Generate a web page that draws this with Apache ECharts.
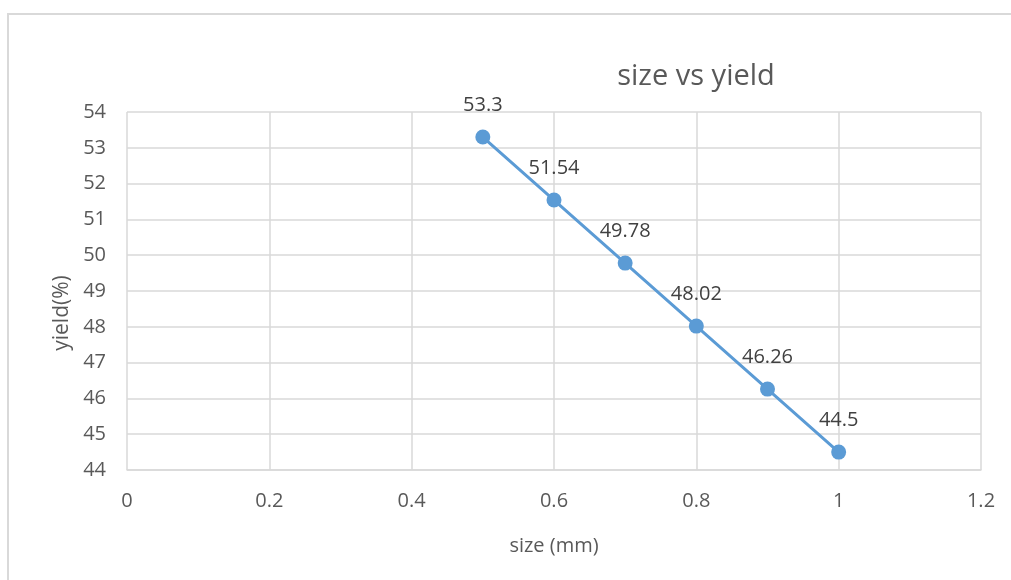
<!DOCTYPE html>
<html>
<head>
<meta charset="utf-8">
<script src="https://cdn.jsdelivr.net/npm/echarts@6/dist/echarts.min.js"></script>
<style>
  html, body { margin: 0; padding: 0; background: #fff; }
  #frame { position: absolute; left: 7px; top: 13px; width: 1010px; height: 575px;
           border-left: 2px solid #d9d9d9; border-top: 2px solid #d9d9d9; box-sizing: border-box; }
  #chart { width: 1011px; height: 580px; position: absolute; left: 0; top: 0; }
</style>
</head>
<body>
<div id="frame"></div>
<div id="chart"></div>
<script>
// Particle size (mm) against yield (%)
const sizes = [0.5, 0.6, 0.7, 0.8, 0.9, 1.0];
const yields = [53.3, 51.54, 49.78, 48.02, 46.26, 44.5];

const xTicks = { min: 0, max: 1.2, interval: 0.2 };
const yTicks = { min: 44, max: 54, interval: 1 };

const font = "'Open Sans', 'Noto Sans', sans-serif";
const textColor = '#595959';
const gridColor = '#d9d9d9';
const lineColor = '#5B9BD5';

const chart = echarts.init(document.getElementById('chart'), null, { renderer: 'canvas' });
chart.setOption({
  animation: false,
  title: {
    text: 'size vs yield',
    left: 691, top: 57, textAlign: 'center',
    textStyle: { fontFamily: font, fontSize: 29, fontWeight: 'normal', color: textColor }
  },
  graphic: [{
    type: 'text',
    x: 62, y: 313, rotation: Math.PI / 2,
    style: {
      text: 'yield(%)', fontFamily: font, fontSize: 21, fill: textColor,
      textAlign: 'center', textVerticalAlign: 'middle'
    }
  }],
  grid: { left: 127, right: 30, top: 112, bottom: 110 },
  xAxis: {
    type: 'value', min: xTicks.min, max: xTicks.max, interval: xTicks.interval,
    name: 'size (mm)', nameLocation: 'middle', nameGap: 66,
    nameTextStyle: { fontFamily: font, fontSize: 20, color: textColor },
    axisLine: { show: true, lineStyle: { color: gridColor, width: 1.5 } },
    axisTick: { show: false },
    splitLine: { show: true, lineStyle: { color: gridColor, width: 1.5 } },
    axisLabel: { fontFamily: font, fontSize: 20, color: textColor, margin: 21,
                 formatter: v => String(Math.round(v * 10) / 10) }
  },
  yAxis: {
    type: 'value', min: yTicks.min, max: yTicks.max, interval: yTicks.interval,
    axisLine: { show: false },
    axisTick: { show: false },
    splitLine: { show: true, lineStyle: { color: gridColor, width: 1.5 } },
    axisLabel: { fontFamily: font, fontSize: 20, color: textColor, margin: 21 }
  },
  series: [{
    type: 'line',
    data: sizes.map((s, i) => [s, yields[i]]),
    symbol: 'circle', symbolSize: 15,
    lineStyle: { color: lineColor, width: 3 },
    itemStyle: { color: lineColor },
    label: {
      show: true, position: 'top', distance: 14,
      fontFamily: font, fontSize: 20, color: '#404040',
      formatter: p => String(p.value[1])
    }
  }]
});
</script>
</body>
</html>
